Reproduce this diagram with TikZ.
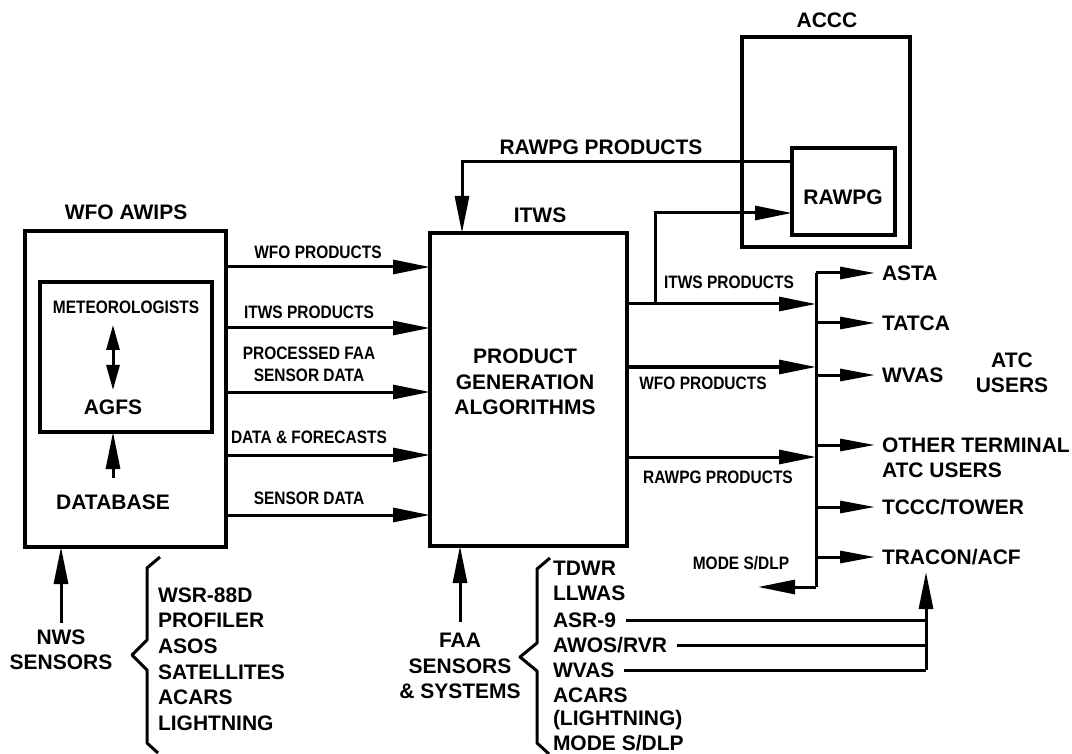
\documentclass[tikz,border=0pt]{standalone}
\usepackage{fontspec}
\setmainfont{Liberation Sans}
\newfontfamily\condfont{Liberation Sans Bold}[FakeStretch=0.86]
\usetikzlibrary{arrows.meta,calc}
\begin{document}
\begin{tikzpicture}[x=1pt,y=-1pt,
  big/.style={font=\fontsize{21}{25.3}\selectfont\bfseries, inner sep=0pt, outer sep=0pt},
  cnd/.style={font=\condfont\fontsize{18}{22}\selectfont, inner sep=0pt, outer sep=0pt},
  box/.style={draw, line width=3.4pt, inner sep=0pt, outer sep=0pt},
  ln/.style={line width=3pt},
  arr/.style={line width=3pt, -{Triangle[length=37pt,width=14pt]}},
  sarr/.style={line width=3pt, -{Triangle[length=35pt,width=12pt]}},
  darr/.style={line width=3pt, {Triangle[length=25pt,width=13pt]}-{Triangle[length=25pt,width=13pt]}},
  brace/.style={line width=3pt, line join=round}]

\useasboundingbox[fill=white] (0,0) rectangle (1072,754);

% ---------- boxes
\node[box, minimum width=201pt, minimum height=316pt] (wfo) at (125.5,389) {};
\node[box, minimum width=172pt, minimum height=150pt] (agfsbox) at (126,357) {};
\node[box, minimum width=197pt, minimum height=313pt] (itws) at (528.5,389.5) {};
\node[box, minimum width=168pt, minimum height=210pt] (accc) at (826,142) {};
\node[box, minimum width=103pt, minimum height=87pt] (rawpg) at (843.5,191.5) {};

% ---------- titles
\node[big] (twfo) at (126,212) {WFO AWIPS};
\node[big] (titws) at (540,215) {ITWS};
\node[big] (taccc) at (827,20) {ACCC};
\node[big] (trawpg) at (843,197) {RAWPG};
\node[big, align=center] (pga) at (525,382) {PRODUCT\\GENERATION\\ALGORITHMS};

% ---------- inside WFO
\node[cnd] (met) at (126,307) {METEOROLOGISTS};
\node[big] (agfs) at (113,407) {AGFS};
\node[big] (db) at (113,502) {DATABASE};
\draw[darr] (113,325) coordinate (m1) -- (113,390) coordinate (m2);
\draw[arr] (db.north |- 0,478) -- (db.north |- agfsbox.south);

% ---------- WFO -> ITWS arrows
\foreach \yy/\nm in {267/a1,328/a2,392/a3,455/a4,515/a5}{
  \coordinate (\nm) at (0,\yy);
  \draw[arr] (wfo.east |- \nm) -- (itws.west |- \nm);
}
\node[cnd] (la1) at (318,252) {WFO PRODUCTS};
\node[cnd] (la2) at (309,312) {ITWS PRODUCTS};
\node[cnd, align=center] (la3) at (309,364) {PROCESSED FAA\\SENSOR DATA};
\node[cnd] (la4) at (309,437) {DATA \& FORECASTS};
\node[cnd] (la5) at (309,498) {SENSOR DATA};

% ---------- RAWPG products back to ITWS
\coordinate (rp) at (462,162);
\draw[arr] (rawpg.west |- rp) -- (rp) -- (rp |- itws.north);
\node[big] (lrp) at (601,147) {RAWPG PRODUCTS};

% ---------- ITWS outputs
\coordinate (bustop) at (816,273);
\coordinate (busbot) at (816,587);
\foreach \yy/\nm in {304/b1,367/b2,457/b3}{
  \coordinate (\nm) at (0,\yy);
  \draw[arr] (itws.east |- \nm) -- (bustop |- \nm);
}
\coordinate (br) at (655,304);
\coordinate (brtop) at (655,213);
\draw[arr] (br) -- (brtop) -- (rawpg.west |- brtop);
\node[cnd] (lb1) at (729,282) {ITWS PRODUCTS};
\node[cnd] (lb2) at (703,383) {WFO PRODUCTS};
\node[cnd] (lb3) at (718,477) {RAWPG PRODUCTS};

% ---------- bus to ATC users
\coordinate (modetip) at (758,587);
\draw[ln] (bustop) -- (busbot);
\draw[arr] (busbot) -- (modetip);
\node[cnd] (lmode) at (741,563) {MODE S/DLP};

\foreach \yy/\nm/\tx in {273/asta/{ASTA},323/tatca/{TATCA},375/wvas/{WVAS},445/other/{OTHER TERMINAL},507/tccc/{TCCC/TOWER},557/tracon/{TRACON/ACF}}{
  \node[big, anchor=west] (\nm) at (882,\yy) {\tx};
  \draw[sarr] (bustop |- \nm.west) -- ([xshift=-7pt]\nm.west);
}
\node[big, anchor=north west] (other2) at (882,462.5) {ATC USERS};
\node[big, align=center] (atcusers) at (1012,372.5) {ATC\\USERS};

% ---------- NWS sensors
\node[big, align=center] (nws) at (61,650) {NWS\\SENSORS};
\draw[arr] (61,623) -- (wfo.south -| 61,0);
\foreach \yy/\nm/\tx in {595/n1/{WSR-88D},620/n2/{PROFILER},646/n3/{ASOS},672/n4/{SATELLITES},697/n5/{ACARS},723/n6/{LIGHTNING}}{
  \node[big, anchor=west] (\nm) at (158,\yy) {\tx};
}
\draw[brace] (160,557) -- (147,568) -- (147,640) -- (132,655) -- (147,670) -- (147,743) -- (158,753);

% ---------- FAA sensors
\node[big, align=center] (faa) at (460,666) {FAA\\SENSORS\\\& SYSTEMS};
\draw[arr] (faa.north |- 0,622) -- (faa.north |- itws.south);
\foreach \yy/\nm/\tx in {568/f1/{TDWR},593/f2/{LLWAS},620/f3/{ASR-9},645/f4/{AWOS/RVR},670/f5/{WVAS},695/f6/{ACARS},720/f7/{(LIGHTNING)},743/f8/{MODE S/DLP}}{
  \node[big, anchor=west] (\nm) at (553,\yy) {\tx};
}
\draw[brace] (550,558) -- (537,569) -- (537,643) -- (520,657) -- (537,671) -- (537,743) -- (549,754);

\coordinate (trtip) at (926,572);
\draw[ln] ([xshift=10pt]f3.east) -- (f3.east -| trtip);
\draw[ln] ([xshift=10pt]f4.east) -- (f4.east -| trtip);
\draw[ln] ([xshift=10pt]f5.east) -- (f5.east -| trtip);
\draw[arr] (f5.east -| trtip) -- (trtip);
\end{tikzpicture}
\end{document}
